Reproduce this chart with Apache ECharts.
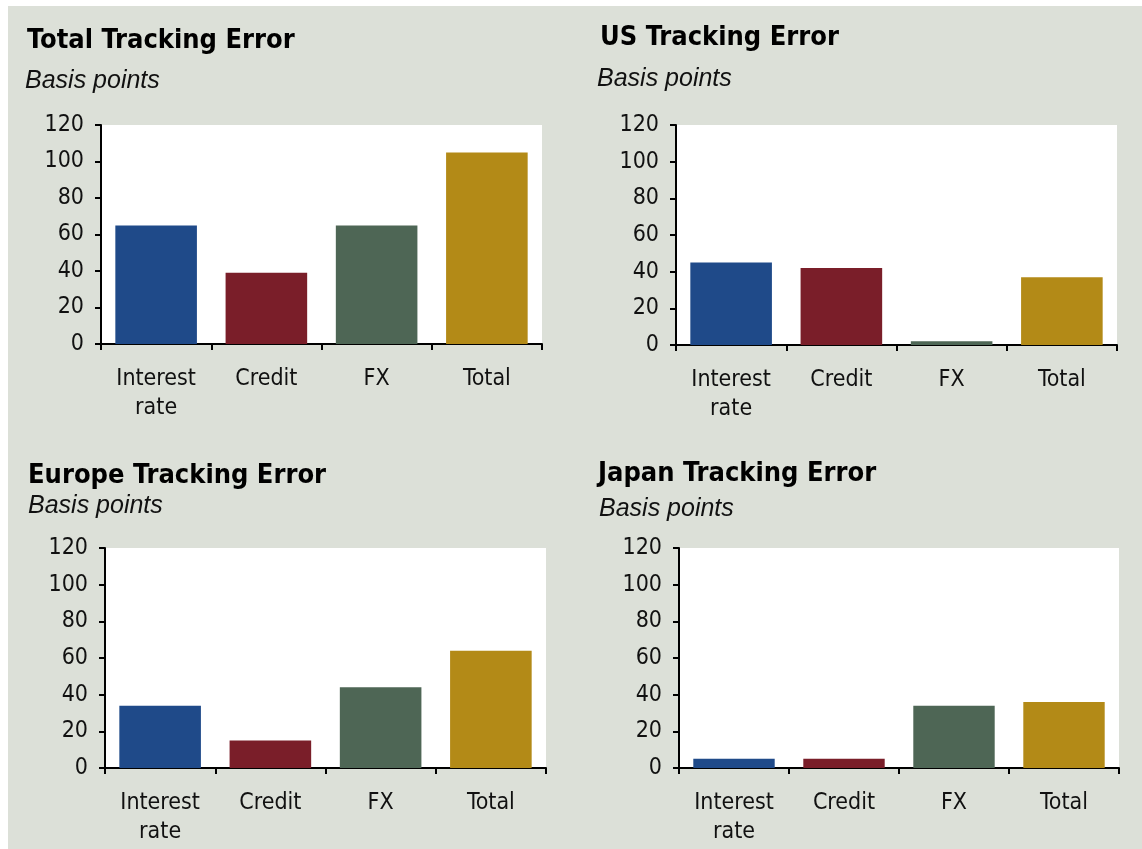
<!DOCTYPE html>
<html>
<head>
<meta charset="utf-8">
<script src="https://cdn.jsdelivr.net/npm/echarts@6/dist/echarts.min.js"></script>
<style>
  html, body { margin: 0; padding: 0; background: #ffffff; }
  #bg { position: absolute; left: 8px; top: 6px; width: 1134px; height: 843px; background: #dce0d8; }
  #chart { position: absolute; left: 0; top: 0; width: 1142px; height: 849px; }
</style>
</head>
<body>
<div id="bg"></div>
<div id="chart"></div>
<script>
// ---- data ----
const categories = ['Interest\nrate', 'Credit', 'FX', 'Total'];
const panelTitles = ['Total Tracking Error', 'US Tracking Error', 'Europe Tracking Error', 'Japan Tracking Error'];
const subtitle = 'Basis points';
const totalValues  = [65, 39, 65, 105];
const usValues     = [45, 42, 2, 37];
const europeValues = [34, 15, 44, 64];
const japanValues  = [5, 5, 34, 36];
const yTicks = [0, 20, 40, 60, 80, 100, 120];
const barColors = ['#1f4a89', '#7a1e29', '#4e6655', '#b38a17'];

const panels = [totalValues, usValues, europeValues, japanValues];

// ---- layout ----
const grids = [
  { left: 101, top: 125, width: 441, height: 219 },
  { left: 676, top: 125, width: 441, height: 220 },
  { left: 105, top: 548, width: 441, height: 220 },
  { left: 679, top: 548, width: 440, height: 220 }
];
const titlePos = [
  { x: 27, y: 27, sx: 25, sy: 69 },
  { x: 600, y: 24, sx: 597, sy: 67 },
  { x: 28, y: 462, sx: 28, sy: 494 },
  { x: 598, y: 460, sx: 599, sy: 497 }
];

const narrow = '"Liberation Sans Narrow", "Arial Narrow", "DejaVu Sans Condensed", sans-serif';

const chart = echarts.init(document.getElementById('chart'), null, { renderer: 'canvas' });

const titles = [];
panelTitles.forEach((t, i) => {
  titles.push({
    text: t, left: titlePos[i].x, top: titlePos[i].y, padding: 0,
    textStyle: { fontFamily: narrow, fontWeight: 'bold', fontSize: 27, color: '#000' }
  });
  titles.push({
    text: subtitle, left: titlePos[i].sx, top: titlePos[i].sy, padding: 0,
    textStyle: { fontFamily: '"Liberation Sans", Arial, sans-serif', fontStyle: 'italic', fontWeight: 'normal', fontSize: 25, color: '#111' }
  });
});

const option = {
  animation: false,
  title: titles,
  grid: grids.map(g => Object.assign({ show: true, backgroundColor: '#ffffff', borderWidth: 0, containLabel: false }, g)),
  xAxis: grids.map((g, i) => ({
    type: 'category', gridIndex: i, data: categories,
    boundaryGap: true,
    axisLine: { show: true, lineStyle: { color: '#000', width: 2 } },
    axisTick: { show: true, length: 6, lineStyle: { color: '#000', width: 2 }, alignWithLabel: false },
    axisLabel: { color: '#111', fontFamily: narrow, fontSize: 23, lineHeight: 29, margin: 21, interval: 0 },
    splitLine: { show: false }
  })),
  yAxis: grids.map((g, i) => ({
    type: 'value', gridIndex: i, min: yTicks[0], max: yTicks[yTicks.length - 1], interval: yTicks[1] - yTicks[0],
    axisLine: { show: true, lineStyle: { color: '#000', width: 2 } },
    axisTick: { show: true, length: 6, lineStyle: { color: '#000', width: 2 } },
    axisLabel: { color: '#111', fontFamily: narrow, fontSize: 23, margin: 17 },
    splitLine: { show: false }
  })),
  series: panels.map((vals, i) => ({
    type: 'bar', xAxisIndex: i, yAxisIndex: i,
    barCategoryGap: '26%',
    data: vals.map((v, j) => ({ value: v, itemStyle: { color: barColors[j] } }))
  }))
};
chart.setOption(option);
</script>
</body>
</html>
